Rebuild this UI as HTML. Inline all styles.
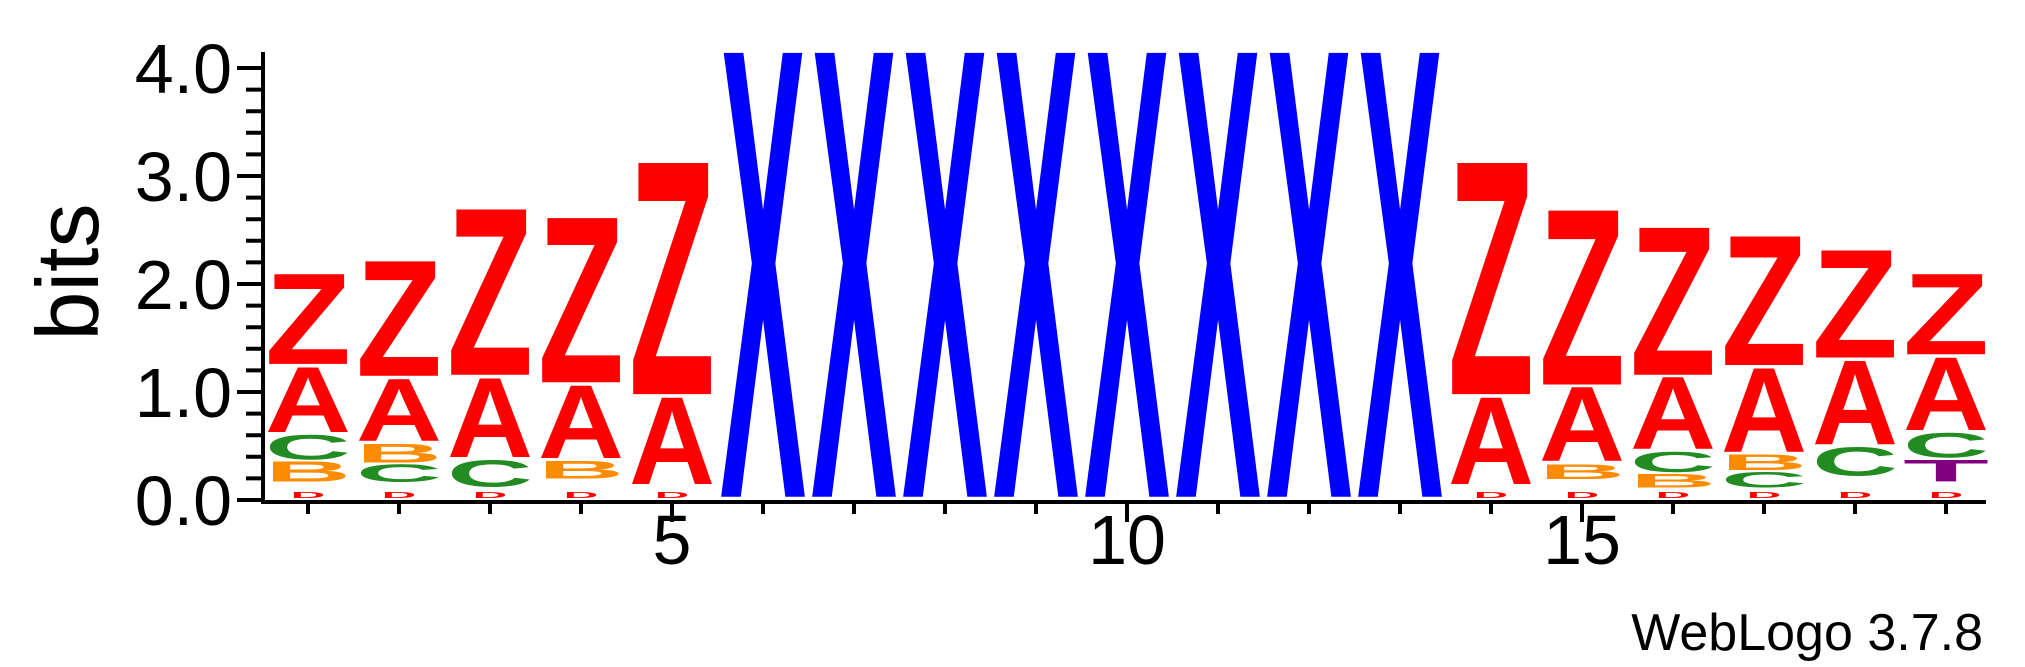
<!DOCTYPE html>
<html><head><meta charset="utf-8"><style>
html,body{margin:0;padding:0;background:#fff;width:2025px;height:667px;overflow:hidden}
svg{display:block}
text{font-family:"Liberation Sans",Arial,sans-serif}
</style></head><body>
<svg id="chart" width="2025" height="667" viewBox="0 0 2025 667" xmlns="http://www.w3.org/2000/svg"></svg>
<script>
// Positions 1..19; each stack listed bottom-up as letters and bit heights
const positions = [1,2,3,4,5,6,7,8,9,10,11,12,13,14,15,16,17,18,19];
const stackLetters = [
 ["D","B","C","A","Z"],["D","C","B","A","Z"],["D","C","A","Z"],["D","B","A","Z"],["D","A","Z"],
 ["X"],["X"],["X"],["X"],["X"],["X"],["X"],["X"],
 ["D","A","Z"],["D","B","A","Z"],["D","B","C","A","Z"],["D","C","B","A","Z"],["D","C","A","Z"],["D","T","C","A","Z"]
];
const stackHeights = [
 [0.15,0.20,0.25,0.63,0.86],[0.15,0.18,0.19,0.60,1.09],[0.10,0.27,0.76,1.56],[0.18,0.18,0.70,1.55],[0.12,0.83,2.17],
 [4.14],[4.14],[4.14],[4.14],[4.14],[4.14],[4.14],[4.14],
 [0.12,0.83,2.17],[0.18,0.15,0.71,1.64],[0.10,0.14,0.20,0.69,1.39],[0.10,0.16,0.16,0.80,1.22],[0.20,0.29,0.80,1.02],[0.15,0.22,0.25,0.70,0.77]
];
const yTicks = [0,1,2,3,4];
const yTickLabels = ["0.0","1.0","2.0","3.0","4.0"];
const xTickLabels = {5:"5",10:"10",15:"15"};
const colors = {A:"#ff0000",Z:"#ff0000",D:"#ff0000",X:"#0000ff",C:"#228b22",B:"#ff8c00",T:"#800080"};

const NS="http://www.w3.org/2000/svg";
const svg=document.getElementById('chart');
const X0=308, COLW=91, Y0=500, BIT=108, LW=86, CAP=68.8;
function xScale(p){return X0+(p-1)*COLW;}
function yScale(b){return Y0-b*BIT;}
function mk(tag,attrs){const e=document.createElementNS(NS,tag);for(const k in attrs)e.setAttribute(k,attrs[k]);svg.appendChild(e);return e;}

// letters
positions.forEach((p,i)=>{
  let base=0;
  stackLetters[i].forEach((L,j)=>{
    const h=stackHeights[i][j];
    const isSmall=(L==='D');
    let yb,yt,w;
    if(isSmall){
      yb=yScale(base+0.02); yt=yScale(base+0.07); w=LW*0.4;
    } else {
      const gapB=Math.min(0.03,h*0.1);
      yb=yScale(base+gapB); yt=yScale(base+h); w=LW;
    }
    const hp=yb-yt;
    if(hp>0.5){
      const t=mk('text',{x:0,y:0,'font-size':100,'font-weight':'bold',fill:colors[L],textLength:w,lengthAdjust:'spacingAndGlyphs',
        transform:`translate(${xScale(p)-w/2},${yb}) scale(1,${hp/CAP})`});
      
      
      t.textContent=L;
    }
    base+=h;
  });
});

// axes
let a=mk('line',{x1:263,y1:52,x2:263,y2:502,stroke:'#000','stroke-width':4});


a=mk('line',{x1:261,y1:502,x2:1986,y2:502,stroke:'#000','stroke-width':4});


for(let k=0;k<=20;k++){
  const b=k*0.2, y=yScale(b), major=(k%5===0);
  const t=mk('line',{x1:major?237:246,y1:y,x2:263,y2:y,stroke:'#000','stroke-width':4});
  
  
}
yTicks.forEach((v,i)=>{
  const t=mk('text',{x:232,y:yScale(v)+25,'font-size':70,'text-anchor':'end',fill:'#000'});
  
  
  t.textContent=yTickLabels[i];
});
positions.forEach(p=>{
  const major=!!xTickLabels[p];
  const t=mk('line',{x1:xScale(p),y1:502,x2:xScale(p),y2:major?522:514,stroke:'#000','stroke-width':4});
  
  
  if(major){
    const l=mk('text',{x:xScale(p),y:564,'font-size':70,'text-anchor':'middle',fill:'#000'});
    
    
    l.textContent=xTickLabels[p];
  }
});
let yt=mk('text',{x:0,y:0,'font-size':88,'text-anchor':'middle',fill:'#000',transform:'translate(98,272) rotate(-90)'});


yt.textContent='bits';
let cr=mk('text',{x:1983,y:650,'font-size':52,'text-anchor':'end',fill:'#000'});


cr.textContent='WebLogo 3.7.8';
</script>
</body></html>
